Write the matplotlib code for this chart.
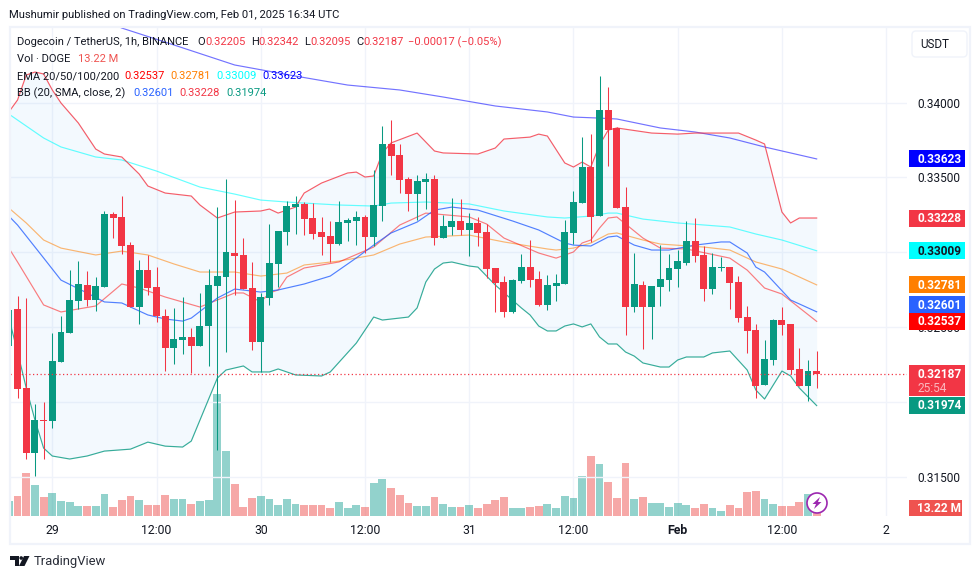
import numpy as np
import matplotlib
matplotlib.use('Agg')
import matplotlib.pyplot as plt
from matplotlib.patches import Rectangle, Circle, Polygon, FancyBboxPatch

plt.rcParams['font.family'] = ['Roboto', 'DejaVu Sans']

# hourly candles, index 0 is Jan 29 00:00
bars = np.arange(-5, 89)
opens = [.32372, .32620, .32092, .31657, .31878, .31871, .32265, .32459, .32673, .32780,
         .32680, .32767, .33255, .33235, .33047, .32633, .32880, .32767, .32573, .32359,
         .32412, .32432, .32372, .32506, .32773, .32833, .32994, .32981, .32760, .32399,
         .32693, .32921, .33134, .33301, .33322, .33228, .33134, .33108, .33054, .33195,
         .33208, .33235, .33101, .33308, .33723, .33649, .33489, .33388, .33469, .33489,
         .33094, .33168, .33208, .33148, .33195, .33134, .32894, .32800, .32600, .32807,
         .32900, .32820, .32647, .32773, .32787, .33128, .33328, .33569, .33241, .33950,
         .33830, .33301, .32633, .32780, .32633, .32767, .32813, .32887, .32927, .33074,
         .32981, .32753, .32893, .32900, .32800, .32566, .32479, .32112, .32279, .32546,
         .32520, .32219, .32105, .32205]
highs = [.32647, .32707, .32693, .31985, .31998, .32459, .32573, .32880, .32940, .32873,
         .32833, .33275, .33268, .33375, .33068, .32947, .32980, .32900, .32620, .32627,
         .32700, .32493, .32727, .32887, .33301, .33489, .33348, .33094, .32934, .32727,
         .33188, .33141, .33342, .33375, .33335, .33328, .33235, .33208, .33342, .33228,
         .33275, .33248, .33549, .33843, .33883, .33723, .33502, .33515, .33529, .33515,
         .33248, .33362, .33355, .33261, .33235, .33188, .32894, .32840, .32820, .32987,
         .33081, .32873, .32847, .32853, .33215, .33408, .33769, .33789, .34177, .34104,
         .33836, .33435, .32994, .32807, .32773, .33047, .32987, .33014, .33208, .33228,
         .33041, .32994, .32967, .32900, .32840, .32640, .32520, .32412, .32553, .32633,
         .32520, .32359, .32279, .32342]
lows = [.32345, .32025, .31617, .31503, .31617, .31824, .32265, .32459, .32620, .32640,
        .32607, .32767, .33094, .32987, .32633, .32520, .32713, .32533, .32205, .32252,
        .32319, .32192, .32372, .32239, .31677, .32332, .32713, .32753, .32345, .32199,
        .32647, .32767, .33047, .33121, .33114, .33088, .32981, .32934, .33047, .33074,
        .33047, .32994, .33041, .33208, .33515, .33395, .33275, .33215, .33288, .33047,
        .33094, .33114, .33114, .32974, .33041, .32827, .32600, .32566, .32593, .32793,
        .32767, .32640, .32613, .32673, .32787, .33054, .33328, .33068, .33241, .33576,
        .33295, .32446, .32600, .32352, .32419, .32640, .32740, .32767, .32914, .32934,
        .32673, .32720, .32873, .32620, .32533, .32325, .32025, .32112, .32245, .32446,
        .32185, .32105, .32005, .32095]
closes = [.32613, .32085, .31657, .31878, .31871, .32272, .32466, .32680, .32787, .32680,
          .32773, .33255, .33228, .33041, .32633, .32880, .32760, .32573, .32359, .32419,
          .32432, .32372, .32506, .32780, .32840, .33001, .32974, .32753, .32399, .32700,
          .32927, .33141, .33308, .33322, .33221, .33121, .33101, .33054, .33201, .33215,
          .33235, .33101, .33315, .33723, .33642, .33482, .33388, .33475, .33489, .33094,
          .33175, .33208, .33148, .33195, .33128, .32887, .32793, .32600, .32813, .32900,
          .32813, .32647, .32780, .32793, .33134, .33335, .33569, .33235, .33950, .33816,
          .33295, .32633, .32787, .32633, .32773, .32820, .32894, .32940, .33074, .32974,
          .32753, .32900, .32900, .32793, .32559, .32473, .32105, .32286, .32546, .32513,
          .32212, .32105, .32205, .32187]
# volume in millions
volumes = [24.8, 33.0, 71.1, 51.2, 31.4, 38.0, 24.8, 23.1, 16.5, 16.5,
           16.5, 36.4, 14.9, 26.4, 33.0, 26.4, 18.2, 18.2, 34.7, 28.1,
           28.1, 19.8, 24.8, 26.4, 201.6, 107.4, 52.9, 14.9, 29.7, 33.0,
           28.1, 18.2, 28.1, 19.8, 18.2, 18.2, 18.2, 13.2, 23.1, 13.2,
           18.2, 14.9, 54.5, 61.1, 46.3, 34.7, 21.5, 16.5, 16.5, 31.4,
           19.8, 14.9, 14.9, 18.2, 13.2, 19.8, 26.4, 31.4, 13.2, 13.2,
           14.9, 16.5, 19.8, 13.2, 33.0, 29.7, 66.1, 99.1, 85.9, 56.2,
           29.7, 87.6, 28.1, 31.4, 21.5, 21.5, 14.9, 21.5, 18.2, 13.2,
           19.8, 13.2, 8.3, 18.2, 13.2, 39.7, 41.3, 28.1, 19.8, 16.5,
           16.5, 23.1, 36.4, 13.22]

ema200_x = [5, 8, 13, 21, 28, 34, 40, 45, 51, 57, 60, 63, 65, 70, 74, 78, 82, 88]
ema200 = [.34585, .34498, .34404, .34251, .34177, .34117, .34084, .34037, .33977, .33937,
          .33903, .33896, .33890, .33830, .33803, .33763, .33703, .33623]
ema100_x = [-5, -1, 1, 5, 8, 12, 17, 21, 24, 27, 29, 33, 37, 39, 43, 48, 52, 57, 59, 62, 64,
            65, 68, 72, 78, 81, 84, 88]
ema100 = [.33923, .33763, .33703, .33636, .33616, .33542, .33435, .33388, .33348, .33335,
          .33328, .33315, .33308, .33328, .33335, .33322, .33275, .33235, .33228, .33241,
          .33261, .33261, .33221, .33195, .33168, .33121, .33081, .33009]
ema50_x = [-5, -3, -1, 1, 5, 8, 11, 14, 17, 21, 24, 27, 29, 33, 37, 40, 43, 48, 52, 57, 58,
           60, 62, 64, 65, 68, 70, 75, 78, 81, 84, 88]
ema50 = [.33295, .33195, .33081, .33027, .32981, .33007, .32981, .32921, .32867, .32867,
         .32840, .32860, .32914, .32940, .32981, .33054, .33101, .33114, .33068, .33021,
         .33014, .33027, .33061, .33121, .33128, .33081, .33054, .33034, .33014, .32934,
         .32887, .32781]
ema20_x = [-5, -4, -1, 1, 5, 8, 10, 13, 17, 21, 22, 24, 25, 26, 27, 29, 33, 37, 40, 43, 48,
           50, 52, 56, 58, 60, 61, 62, 63, 64, 65, 68, 70, 73, 78, 80, 82, 84, 88]
ema20 = [.33027, .32934, .32647, .32600, .32640, .32787, .32760, .32700, .32633, .32727,
         .32727, .32667, .32727, .32747, .32833, .32894, .32934, .33034, .33181, .33261,
         .33235, .33188, .33094, .32994, .32960, .33001, .33061, .33081, .33161, .33228,
         .33235, .33094, .33027, .33021, .32960, .32880, .32760, .32720, .32537]

bb_basis_x = [-5, -4, -1, 1, 4, 6, 8, 11, 13, 15, 16, 19, 21, 24, 26, 29, 32, 35, 37, 39, 42,
              44, 46, 49, 53, 55, 56, 59, 60, 62, 64, 65, 67, 69, 71, 74, 77, 78, 80, 81, 82,
              85, 88]
bb_basis = [.33241, .33181, .32961, .32813, .32727, .32667, .32660, .32580, .32553, .32539,
            .32559, .32693, .32753, .32733, .32747, .32787, .32840, .32961, .33047, .33128,
            .33201, .33281, .33301, .33281, .33208, .33168, .33148, .33061, .33047, .33041,
            .33101, .33108, .33047, .33014, .33014, .33047, .33068, .33068, .32994, .32900,
            .32867, .32680, .32601]
bb_upper_x = [-5, -4, -3, -2, -1, 0, 1, 3, 5, 6, 8, 10, 11, 13, 16, 17, 19, 21, 24, 25, 26,
              28, 29, 31, 34, 35, 36, 37, 38, 39, 42, 44, 45, 49, 51, 52, 55, 56, 57, 59, 60,
              61, 62, 63, 64, 65, 69, 72, 74, 79, 81, 82, 84, 85, 86, 88]
bb_upper = [.33937, .34017, .34184, .34204, .34191, .34084, .33997, .33863, .33689, .33656,
            .33636, .33522, .33442, .33395, .33375, .33315, .33228, .33268, .33275, .33288,
            .33261, .33301, .33395, .33462, .33529, .33535, .33502, .33509, .33663, .33730,
            .33796, .33676, .33663, .33656, .33696, .33756, .33769, .33789, .33776, .33596,
            .33569, .33602, .33569, .33716, .33816, .33830, .33796, .33789, .33796, .33796,
            .33749, .33723, .33268, .33195, .33228, .33228]
bb_lower_x = [-5, -4, -3, -2, -1, 0, 2, 4, 6, 9, 11, 13, 15, 16, 19, 20, 22, 23, 25, 26, 28,
              31, 32, 35, 37, 38, 41, 42, 43, 44, 45, 46, 48, 49, 51, 54, 55, 56, 57, 58, 59,
              60, 61, 62, 63, 64, 65, 66, 67, 68, 70, 71, 72, 73, 75, 76, 78, 80, 81, 82, 84,
              85, 86, 88]
bb_lower = [.32560, .32332, .32092, .31878, .31690, .31637, .31617, .31637, .31670, .31683,
            .31730, .31703, .31697, .31737, .32158, .32212, .32239, .32199, .32199, .32219,
            .32179, .32172, .32199, .32392, .32566, .32546, .32566, .32627, .32800, .32887,
            .32927, .32934, .32907, .32900, .32780, .32627, .32580, .32506, .32473, .32473,
            .32506, .32520, .32500, .32520, .32433, .32386, .32386, .32332, .32305, .32259,
            .32232, .32232, .32279, .32299, .32299, .32326, .32339, .32212, .32078, .32018,
            .32205, .32172, .32092, .31974]

price_ticks = [.315, .32, .325, .33, .335, .34]
# .32 and .33 sit fully behind the price tags
price_labels = ['0.31500', '', '0.32500', '', '0.33500', '0.34000']
time_ticks = [0, 12, 24, 36, 48, 60, 72, 84, 96]
time_labels = ['29', '12:00', '30', '12:00', '31', '12:00', 'Feb', '12:00', '2']

GREEN = '#089981'
RED = '#F23645'
TEXT = '#131722'
GRID = '#f0f3fa'
LAST = .32187

fig = plt.figure(figsize=(9.8, 5.79), dpi=100)
# pane spans x 10-907, y 27-516 in pixels
vol_ax = fig.add_axes([10 / 980, 63 / 579, 897 / 980, 489 / 579])
ax = vol_ax.twinx()
ax.set_zorder(vol_ax.get_zorder() + 1)
ax.patch.set_visible(False)

ax.set_xlim(-4.87, 98.4)
ax.set_ylim(.31236, .34505)
vol_ax.set_ylim(0, 808)
vol_ax.set_xticks(time_ticks)
vol_ax.set_xticklabels(time_labels)
vol_ax.yaxis.set_visible(False)
vol_ax.grid(axis='x', color=GRID, lw=1.0)
vol_ax.set_axisbelow(True)
vol_ax.tick_params(axis='x', length=0, pad=6, labelsize=8.8, labelcolor=TEXT)
for lab in vol_ax.get_xticklabels():
    if lab.get_text() == 'Feb':
        lab.set_fontweight('bold')

ax.yaxis.tick_right()
ax.set_yticks(price_ticks)
ax.set_yticklabels(price_labels)
ax.tick_params(axis='y', length=0, pad=7.2, labelsize=8.6, labelcolor=TEXT)
ax.grid(axis='y', color=GRID, lw=1.0)
ax.set_axisbelow(True)
for a in (ax, vol_ax):
    for s in a.spines.values():
        s.set_visible(False)

colors = [GREEN if c > o else RED for o, c in zip(opens, closes)]
vol_colors = ['#26a69a' if c > o else '#ef5350' for o, c in zip(opens, closes)]

vol_ax.bar(bars, volumes, width=0.9, color=vol_colors, alpha=0.5, lw=0)

# bollinger band fill
fill_up = np.interp(bars, bb_upper_x, bb_upper)
fill_lo = np.interp(bars, bb_lower_x, bb_lower)
ax.fill_between(bars, fill_lo, fill_up, color='#2196f3', alpha=0.05, lw=0, zorder=1)

ax.plot(ema200_x, ema200, color='#0000ff', lw=0.85, alpha=0.55, zorder=2)
ax.plot(ema100_x, ema100, color='#00ffff', lw=0.85, alpha=0.6, zorder=2)
ax.plot(ema50_x, ema50, color='#ff7f00', lw=0.85, alpha=0.55, zorder=2)
ax.plot(ema20_x, ema20, color='#ff0000', lw=0.85, alpha=0.5, zorder=2)
ax.plot(bb_basis_x, bb_basis, color='#2962ff', lw=0.85, alpha=0.8, zorder=2)
ax.plot(bb_upper_x, bb_upper, color=RED, lw=0.85, alpha=0.8, zorder=2)
ax.plot(bb_lower_x, bb_lower, color=GREEN, lw=0.85, alpha=0.8, zorder=2)

# candles
ax.vlines(bars, lows, highs, colors=colors, lw=0.75, zorder=3)
o = np.array(opens)
c = np.array(closes)
ax.bar(bars, np.abs(c - o), bottom=np.minimum(o, c), width=0.8, color=colors, lw=0, zorder=4)

ax.axhline(LAST, color=RED, lw=0.9, ls=(0, (1, 2)), zorder=5)

# overlay in pixel coordinates for the frame, tags and legend text
top = fig.add_axes([0, 0, 1, 1])
top.set_xlim(0, 980)
top.set_ylim(579, 0)
top.axis('off')
top.set_zorder(ax.get_zorder() + 1)
top.patch.set_visible(False)

top.add_patch(Rectangle((10, 27), 960, 517, fill=False, ec=GRID, lw=1.6))


def price_y(v):
    return 579 - ax.transData.transform((0, v))[1]


def price_tag(v, txt, bg, fg='white', sub=None, dy=0):
    y = price_y(v) + dy
    h = 31 if sub else 17
    top.add_patch(Rectangle((909, y - 8.5), 56, h, fc=bg, ec='none'))
    top.text(917, y + 0.3, txt, color=fg, fontsize=8.6, weight='bold', va='center', ha='left')
    if sub:
        top.text(917, y + 15, sub, color='#fbb6bd', fontsize=8.6, va='center', ha='left')


price_tag(.33623, '0.33623', '#0000ff')
price_tag(.33228, '0.33228', RED)
price_tag(.33009, '0.33009', '#00ffff', TEXT)
price_tag(.32781, '0.32781', '#ff7f00')
price_tag(.32601, '0.32601', '#2962ff', dy=-7)
price_tag(.32537, '0.32537', '#ff0000')
price_tag(.31974, '0.31974', GREEN)
price_tag(LAST, '0.32187', RED, sub='25:54')
top.add_patch(Rectangle((909, 500), 53, 16, fc='#ef5350', ec='none'))
top.text(917, 508, '13.22 M', color='white', fontsize=8.6, weight='bold', va='center')

# currency button
top.add_patch(FancyBboxPatch((914, 33), 51, 22, boxstyle='round,pad=2,rounding_size=4',
                             fc='white', ec=GRID, lw=1.0))
top.text(935, 44.5, 'USDT', color=TEXT, fontsize=8.4, va='center', ha='center')


def legend_row(y, parts):
    for x, txt, col in parts:
        top.text(x, y, txt, color=col, fontsize=8.0, va='center', ha='left')


top.text(9, 15, 'Mushumir published on TradingView.com, Feb 01, 2025 16:34 UTC', color=TEXT,
         fontsize=8.1, va='center')
legend_row(42, [(17, 'Dogecoin / TetherUS, 1h, BINANCE', TEXT), (197, 'O', TEXT), (205, '0.32205', RED),
                (251, 'H', TEXT), (258, '0.32342', RED), (304, 'L', TEXT), (310, '0.32095', RED),
                (356, 'C', TEXT), (363, '0.32187', RED), (408, '\u22120.00017 (\u22120.05%)', RED)])
legend_row(59, [(17, 'Vol \u00b7 DOGE', TEXT), (78, '13.22 M', '#ef5350')])
legend_row(76, [(17, 'EMA 20/50/100/200', TEXT), (124, '0.32537', '#ff0000'), (170, '0.32781', '#ff7f00'),
                (216, '0.33009', '#00ffff'), (262, '0.33623', '#0000ff')])
legend_row(93, [(17, 'BB (20, SMA, close, 2)', TEXT), (133, '0.32601', '#2962ff'), (179, '0.33228', RED),
                (226, '0.31974', GREEN)])

# lightning badge
top.add_patch(Circle((817, 503), 10, fc='white', ec='#9c27b0', lw=1.2, zorder=5))
top.add_patch(Polygon([(820, 497), (812.5, 504), (816, 504), (814, 509), (821.5, 502), (818, 502)],
                      fc='#9c27b0', ec='none', zorder=6))

# logo and wordmark
logo = '#131722'
top.add_patch(Polygon([(10, 556), (19, 556), (19, 566), (14.5, 566), (14.5, 560), (10, 560)], fc=logo, ec='none'))
top.add_patch(Circle((21.2, 558), 1.8, fc=logo, ec='none'))
top.add_patch(Polygon([(24, 556), (29.5, 556), (24.5, 566), (19, 566)], fc=logo, ec='none'))
top.text(33.5, 561.5, 'TradingView', color='#2a2e39', fontsize=9.4, va='center')

fig.savefig('out.png', dpi=100)
